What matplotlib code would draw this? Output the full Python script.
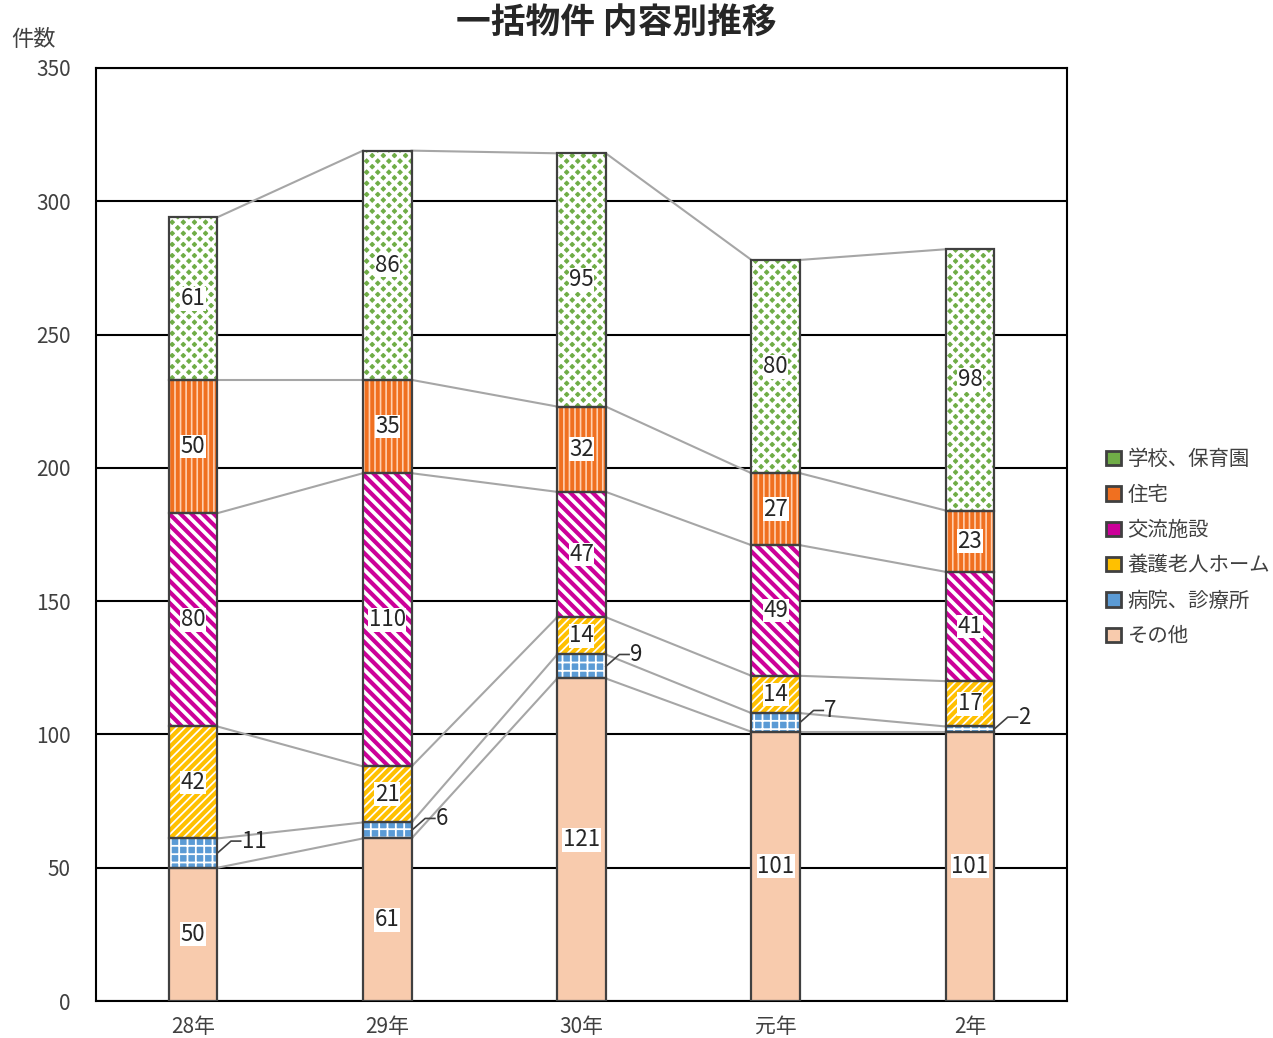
import matplotlib.pyplot as plt
import numpy as np

plt.rcParams['font.family'] = ['Noto Sans CJK JP', 'DejaVu Sans']

# data
years = ['28年', '29年', '30年', '元年', '2年']
series = ['その他', '病院、診療所', '養護老人ホーム', '交流施設', '住宅', '学校、保育園']
sonota = [50, 61, 121, 101, 101]
byoin = [11, 6, 9, 7, 2]
yogo = [42, 21, 14, 14, 17]
koryu = [80, 110, 47, 49, 41]
jutaku = [50, 35, 32, 27, 23]
gakko = [61, 86, 95, 80, 98]
values = [sonota, byoin, yogo, koryu, jutaku, gakko]

# styles: (face, hatch, hatch colour, hatch linewidth)
styles = [
    ('#f8cbad', None, None, 1),
    ('#5b9bd5', '++', 'white', 1.3),
    ('white', '////', '#ffc000', 3.0),
    ('white', '\\\\\\', '#cc0099', 3.0),
    ('#f07020', '|||', '#ffd0b0', 1.2),
    ('#70ad47', 'xxx', 'white', 2.6),
]

fig = plt.figure(figsize=(12.73, 10.38), dpi=100)
ax = fig.add_axes([0.0754, 0.0356, 0.7628, 0.8989])

x = np.arange(len(years))
w = 0.25
bottom = np.zeros(len(years))
cums = []
for vals, (fc, hatch, hc, hlw) in zip(values, styles):
    vals = np.array(vals)
    with plt.rc_context({'hatch.linewidth': hlw}):
        if hatch:
            bars = ax.bar(x, vals, w, bottom=bottom, color=fc, hatch=hatch,
                          edgecolor=hc, linewidth=0, zorder=3)
        else:
            bars = ax.bar(x, vals, w, bottom=bottom, color=fc, linewidth=0, zorder=3)
    for b in bars:
        if hasattr(b, 'set_hatch_linewidth'):
            b.set_hatch_linewidth(hlw)
    ax.bar(x, vals, w, bottom=bottom, fill=False, edgecolor='#404040',
           linewidth=1.6, zorder=4)
    mids = bottom + vals / 2
    for i, v in enumerate(vals):
        if v >= 12:
            ax.text(x[i], mids[i], str(v), ha='center', va='center',
                    fontsize=16, color='#262626', zorder=6,
                    bbox=dict(facecolor='white', edgecolor='none', pad=0.3))
        else:
            ly = mids[i] + 4.5
            x0 = x[i] + w / 2
            ax.plot([x0, x0 + 0.07, x0 + 0.12], [mids[i], ly, ly],
                    color='#404040', lw=1.2, zorder=5)
            ax.text(x0 + 0.125, ly, str(v), ha='left', va='center',
                    fontsize=16, color='#262626', zorder=6)
    bottom = bottom + vals
    cums.append(bottom.copy())

# connecting lines between stacks
for cum in cums:
    for i in range(len(x) - 1):
        ax.plot([x[i] + w / 2, x[i + 1] - w / 2], [cum[i], cum[i + 1]],
                color='#a6a6a6', lw=1.5, zorder=2)

ax.set_xlim(-0.5, len(years) - 0.5)
ax.set_ylim(0, 350)
ax.set_yticks(range(0, 351, 50))
ax.set_xticks(x)
ax.set_xticklabels(years, fontsize=15, color='#404040')
ax.tick_params(axis='y', labelsize=15, labelcolor='#404040', length=0, pad=18)
ax.tick_params(axis='x', length=0, pad=11)
ax.grid(axis='y', color='black', lw=1.5, zorder=1)
ax.set_axisbelow(True)
for s in ax.spines.values():
    s.set_color('black')
    s.set_linewidth(1.5)

fig.text(0.484, 0.978, '一括物件 内容別推移', ha='center', va='center',
         fontsize=25, fontweight='bold', color='#262626')
fig.text(0.009, 0.962, '件数', ha='left', va='center', fontsize=16, color='#404040')

# legend
handles = []
for (fc, hatch, hc, hlw) in styles:
    face = hc if fc == 'white' else fc
    handles.append(plt.Rectangle((0, 0), 1, 1, facecolor=face,
                                 edgecolor='#404040', linewidth=2))
leg = fig.legend(handles[::-1], series[::-1], loc='center left',
                 bbox_to_anchor=(0.869, 0.472), frameon=False, fontsize=14.7,
                 handlelength=0.7, handleheight=0.7, handletextpad=0.35,
                 labelspacing=0.7, labelcolor='#404040',
                 borderaxespad=0, borderpad=0)

fig.savefig('out.png', dpi=100)
